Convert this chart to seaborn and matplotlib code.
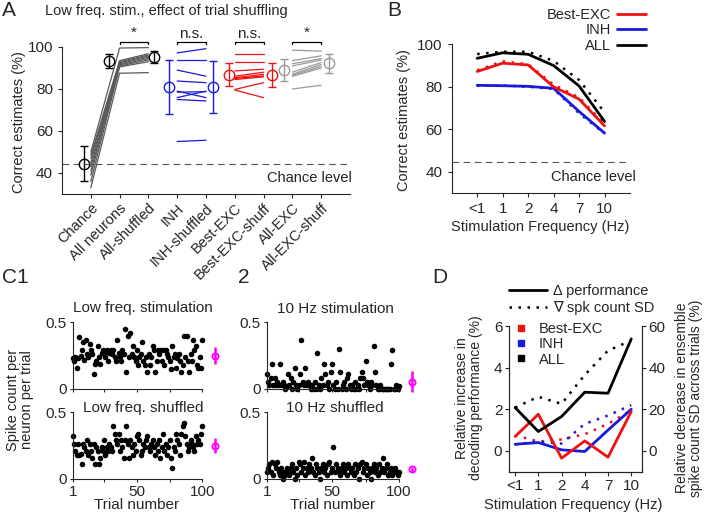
import seaborn as sns
import numpy as np
import pandas as pd
import matplotlib.pyplot as plt
from matplotlib.lines import Line2D

# ---- panel A data ----
cats_a = ['Chance', 'All neurons', 'All-shuffled', 'INH', 'INH-shuffled',
          'Best-EXC', 'Best-EXC-shuff', 'All-EXC', 'All-EXC-shuff']
means_a = [44.5, 93.3, 95.4, 81, 81, 86.7, 86.8, 89.2, 92.2]
errs_a = [8.3, 3.3, 2.8, 12.7, 12.5, 5.5, 5.8, 5.3, 4.5]
chance_sess = [50, 48.5, 47, 45, 43, 41, 39, 36, 33]
all_sess = [99.5, 93.5, 93, 92.5, 92, 91.5, 91, 90.5, 87.5]
allshuf_sess = [99.7, 96.8, 96.2, 95.7, 95.1, 94.5, 93.8, 93, 87.8]
inh_sess = [97.2, 93.6, 89, 83.8, 79, 75.9, 78.5, 75, 55]
inhshuf_sess = [99.2, 93.6, 86.1, 83, 75.9, 79, 78.7, 74.3, 55.6]
best_sess = [96.8, 93, 88.6, 86.1, 85.4, 85, 84.5, 79.8, 79.5]
bestshuf_sess = [96.8, 93, 89.4, 88, 87, 86.2, 85.8, 83, 75.9]
allexc_sess = [98.5, 93.5, 92, 91, 88, 87, 86.5, 86, 80]
allexcshuf_sess = [98, 95.8, 94.5, 93.8, 92.6, 91.7, 90.8, 90, 81.8]
chance_level = 44.5

# ---- panel B data ----
freqs = ['<1', '1', '2', '4', '7', '10']
b_all = [93.4, 96, 95.3, 90, 80.4, 63.7]
b_all_shuf = [95.4, 96.5, 96.5, 92.2, 83.2, 68]
b_best = [87.2, 91.1, 90.3, 80, 74.2, 61.6]
b_best_shuf = [87.8, 92, 90.6, 81, 75, 62.5]
b_inh = [80.7, 80.5, 80.2, 79.3, 68.4, 58.2]
b_inh_shuf = [80.5, 80.6, 80, 79, 67.5, 58]

# ---- panel C data (spike count per neuron per trial) ----
trials = list(range(1, 101))
low_stim = [0.23, 0.21, 0.24, 0.16, 0.23, 0.39, 0.25, 0.29, 0.35, 0.22,
            0.37, 0.26, 0.24, 0.34, 0.29, 0.26, 0.11, 0.19, 0.21, 0.32,
            0.24, 0.19, 0.27, 0.29, 0.26, 0.24, 0.29, 0.21, 0.27, 0.29,
            0.26, 0.29, 0.24, 0.21, 0.37, 0.27, 0.24, 0.21, 0.29, 0.26,
            0.45, 0.13, 0.40, 0.24, 0.42, 0.26, 0.32, 0.24, 0.21, 0.29,
            0.18, 0.24, 0.26, 0.35, 0.21, 0.18, 0.24, 0.13, 0.26, 0.18,
            0.24, 0.32, 0.29, 0.13, 0.21, 0.29, 0.26, 0.29, 0.21, 0.29,
            0.18, 0.29, 0.26, 0.24, 0.21, 0.15, 0.32, 0.24, 0.26, 0.16,
            0.23, 0.26, 0.21, 0.13, 0.18, 0.40, 0.24, 0.40, 0.21, 0.13,
            0.26, 0.21, 0.37, 0.29, 0.32, 0.18, 0.16, 0.24, 0.16, 0.37]
low_shuf = [0.32, 0.26, 0.21, 0.18, 0.26, 0.18, 0.19, 0.11, 0.26, 0.24,
            0.21, 0.29, 0.18, 0.26, 0.21, 0.16, 0.26, 0.11, 0.24, 0.21,
            0.11, 0.16, 0.24, 0.21, 0.29, 0.18, 0.24, 0.21, 0.26, 0.24,
            0.21, 0.40, 0.34, 0.29, 0.26, 0.34, 0.21, 0.29, 0.24, 0.16,
            0.29, 0.40, 0.26, 0.16, 0.29, 0.24, 0.18, 0.26, 0.21, 0.32,
            0.34, 0.29, 0.18, 0.21, 0.26, 0.24, 0.29, 0.32, 0.24, 0.21,
            0.26, 0.29, 0.24, 0.18, 0.26, 0.21, 0.29, 0.16, 0.24, 0.34,
            0.21, 0.26, 0.18, 0.24, 0.29, 0.16, 0.08, 0.24, 0.21, 0.34,
            0.29, 0.26, 0.18, 0.34, 0.40, 0.42, 0.32, 0.26, 0.21, 0.24,
            0.29, 0.26, 0.24, 0.21, 0.32, 0.26, 0.29, 0.26, 0.34, 0.40]
hz10_stim = [0.11, 0.05, 0.03, 0.08, 0.19, 0.03, 0.08, 0.03, 0.05, 0.03,
             0.19, 0.03, 0.05, 0.03, 0.00, 0.02, 0.11, 0.03, 0.08, 0.00,
             0.05, 0.16, 0.03, 0.00, 0.03, 0.11, 0.37, 0.05, 0.03, 0.16,
             0.03, 0.05, 0.03, 0.00, 0.03, 0.00, 0.05, 0.00, 0.27, 0.03,
             0.00, 0.08, 0.03, 0.19, 0.11, 0.03, 0.05, 0.00, 0.13, 0.19,
             0.03, 0.00, 0.05, 0.00, 0.30, 0.13, 0.00, 0.03, 0.05, 0.00,
             0.08, 0.11, 0.03, 0.00, 0.03, 0.00, 0.05, 0.00, 0.03, 0.00,
             0.08, 0.13, 0.08, 0.03, 0.21, 0.05, 0.03, 0.00, 0.05, 0.03,
             0.32, 0.13, 0.03, 0.00, 0.00, 0.03, 0.00, 0.00, 0.00, 0.00,
             0.00, 0.00, 0.00, 0.19, 0.29, 0.00, 0.00, 0.03, 0.00, 0.02]
hz10_shuf = [0.05, 0.08, 0.11, 0.05, 0.13, 0.03, 0.11, 0.08, 0.13, 0.05,
             0.03, 0.08, 0.00, 0.05, 0.03, 0.08, 0.05, 0.03, 0.08, 0.11,
             0.05, 0.00, 0.08, 0.03, 0.13, 0.11, 0.05, 0.08, 0.13, 0.03,
             0.08, 0.05, 0.11, 0.08, 0.16, 0.05, 0.03, 0.11, 0.08, 0.05,
             0.00, 0.08, 0.11, 0.05, 0.08, 0.03, 0.11, 0.13, 0.05, 0.08,
             0.24, 0.05, 0.11, 0.08, 0.05, 0.03, 0.08, 0.11, 0.05, 0.08,
             0.03, 0.11, 0.08, 0.05, 0.08, 0.03, 0.11, 0.05, 0.08, 0.00,
             0.11, 0.13, 0.05, 0.08, 0.11, 0.03, 0.08, 0.05, 0.00, 0.08,
             0.11, 0.05, 0.08, 0.03, 0.11, 0.05, 0.08, 0.16, 0.05, 0.08,
             0.11, 0.03, 0.05, 0.08, 0.03, 0.05, 0.08, 0.05, 0.03, 0.05]
c_means = [0.25, 0.25, 0.055, 0.072]
c_errs = [0.065, 0.057, 0.078, 0.02]

# ---- panel D data ----
d_all = [2.08, 0.93, 1.65, 2.82, 2.77, 5.38]
d_best = [0.69, 1.76, -0.35, 0.48, -0.3, 1.89]
d_inh = [0.32, 0.4, 0.05, -0.03, 1.0, 2.0]
d_all_sd = [20.8, 26, 22.6, 36.5, 48.2, 53]
d_best_sd = [7.5, 4.5, 5.5, 8, 13, 19.5]
d_inh_sd = [3, 4.5, 3.5, 13, 17, 22]

RED = '#ee1111'
BLUE = '#1a1ad8'
GRAY = '#9a9a9a'
DGRAY = '#5a5a5a'
MAG = '#ff00ff'

sns.set_style('ticks')
plt.rcParams['font.family'] = ['Liberation Sans', 'DejaVu Sans']
plt.rcParams['font.size'] = 10
plt.rcParams['xtick.labelsize'] = 11
plt.rcParams['ytick.labelsize'] = 11
plt.rcParams['axes.linewidth'] = 0.8
plt.rcParams['xtick.major.size'] = 3
plt.rcParams['ytick.major.size'] = 3

W, H = 704, 513
fig = plt.figure(figsize=(W / 100, H / 100), dpi=100)


def rect(l, t, r, b):
    return [l / W, 1 - b / H, (r - l) / W, (b - t) / H]


def ftext(x, y, s, **kw):
    fig.text(x / W, 1 - y / H, s, **kw)


dots = (0, (1, 2.6))

# ================= A =================
axA = fig.add_axes(rect(62, 47, 350, 194))
rows = []
pairs = [(0, chance_sess), (1, all_sess), (2, allshuf_sess)]
for s in range(len(chance_sess)):
    for xi, arr in pairs:
        rows.append(dict(x=xi, v=arr[s], sess=s, grp='all'))
for grp, x0, a, b in [('inh', 3, inh_sess, inhshuf_sess),
                      ('best', 5, best_sess, bestshuf_sess),
                      ('allexc', 7, allexc_sess, allexcshuf_sess)]:
    for s in range(len(a)):
        rows.append(dict(x=x0, v=a[s], sess=s, grp=grp))
        rows.append(dict(x=x0 + 1, v=b[s], sess=s, grp=grp))
dfa = pd.DataFrame(rows)
grp_col = {'all': DGRAY, 'inh': BLUE, 'best': RED, 'allexc': GRAY}
for grp, col in grp_col.items():
    sns.lineplot(data=dfa[dfa.grp == grp], x='x', y='v', units='sess',
                 estimator=None, color=col, lw=0.9, ax=axA)

offs = [-0.25, -0.38, 0.2, -0.28, 0.24, -0.2, 0.28, -0.3, 0.28]
cols_a = ['k', 'k', 'k', BLUE, BLUE, RED, RED, GRAY, GRAY]
for i in range(len(cats_a)):
    axA.errorbar(i + offs[i], means_a[i], yerr=errs_a[i], fmt='o', ms=7.5,
                 mfc='none', mec=cols_a[i], ecolor=cols_a[i], mew=1.0,
                 elinewidth=1.0, capsize=3)
axA.axhline(chance_level, color='#555555', lw=0.8, dashes=(6, 4))
axA.text(9.05, 37.5, 'Chance level', ha='right', va='center', fontsize=10.5,
         color='#222222')
for x0, lab in [(1, '*'), (3, 'n.s.'), (5, 'n.s.'), (7, '*')]:
    axA.plot([x0, x0, x0 + 1, x0 + 1], [101.6, 102.6, 102.6, 101.6],
             color='k', lw=0.9, clip_on=False)
    axA.text(x0 + 0.5, 103.4 if lab == '*' else 102.9, lab, ha='center',
             va='bottom', fontsize=11 if lab == '*' else 11)
axA.set_xlim(-1, 9)
axA.set_ylim(30, 100)
axA.set_yticks([40, 60, 80, 100])
axA.set_xticks(range(len(cats_a)))
axA.set_xticklabels(cats_a, rotation=45, ha='right', rotation_mode='anchor',
                    fontsize=10.5)
axA.tick_params(axis='x', pad=2)
axA.set_xlabel('')
axA.set_ylabel('')
sns.despine(ax=axA)
ftext(19, 122, 'Correct estimates (%)', rotation=90, ha='center', va='center',
      fontsize=10.5)
ftext(45, 11, 'Low freq. stim., effect of trial shuffling', ha='left',
      va='center', fontsize=10.5)

# ================= B =================
axB = fig.add_axes(rect(451.7, 44.3, 630, 193))
xi = list(range(len(freqs)))
for vals, col, ls in [(b_all_shuf, 'k', dots), (b_best_shuf, RED, dots),
                      (b_inh_shuf, BLUE, dots), (b_inh, BLUE, '-'),
                      (b_best, RED, '-'), (b_all, 'k', '-')]:
    sns.lineplot(x=xi, y=vals, color=col, lw=2 if ls == '-' else 1.8,
                 linestyle=ls, ax=axB)
axB.axhline(chance_level, color='#555555', lw=0.8, dashes=(6, 4))
axB.text(6.25, 37.5, 'Chance level', ha='right', va='center', fontsize=10.5,
         color='#222222')
axB.set_xlim(-1, 6)
axB.set_ylim(30, 100)
axB.set_yticks([40, 60, 80, 100])
axB.set_xticks(xi)
axB.set_xticklabels(freqs)
sns.despine(ax=axB)
ftext(540, 227, 'Stimulation Frequency (Hz)', ha='center', va='center',
      fontsize=10.5)
ftext(404, 120, 'Correct estimates (%)', rotation=90, ha='center',
      va='center', fontsize=10.5)
handles = [Line2D([], [], color=RED, lw=2), Line2D([], [], color=BLUE, lw=2),
           Line2D([], [], color='k', lw=2)]
fig.legend(handles, ['Best-EXC', 'INH', 'ALL'], loc='upper right',
           bbox_to_anchor=(652 / W, 1 - 2 / H), frameon=False,
           markerfirst=False, handlelength=2.0, labelspacing=0.1,
           fontsize=10.5, borderaxespad=0, handletextpad=0.4)

# ================= C =================
c_sets = [(rect(72.7, 322.3, 222, 389), low_stim, 0),
          (rect(72.7, 412.3, 222, 479), low_shuf, 1),
          (rect(266.7, 322.3, 419, 389), hz10_stim, 2),
          (rect(266.7, 412.3, 419, 479), hz10_shuf, 3)]
for r, vals, k in c_sets:
    ax = fig.add_axes(r)
    sns.scatterplot(x=trials, y=vals, color='k', s=16, linewidth=0,
                    ax=ax, clip_on=False)
    ax.errorbar(110, c_means[k], yerr=c_errs[k], fmt='o', ms=4.5,
                mfc='none', mec=MAG, ecolor=MAG, mew=1.3, elinewidth=1.8,
                capsize=0, clip_on=False)
    ax.set_xlim(1, 115)
    ax.set_ylim(0, 0.5)
    ax.set_yticks([0, 0.5])
    ax.set_yticklabels(['0', '0.5'])
    ax.set_xticks([1, 25, 50, 75, 100])
    if k in (1, 3):
        ax.set_xticklabels(['1', '', '50', '', '100'])
    else:
        ax.set_xticklabels([])
    sns.despine(ax=ax)
    ax.spines['bottom'].set_bounds(1, 100)
    ax.tick_params(length=2.5, pad=2)
ftext(143, 308, 'Low freq. stimulation', ha='center', va='center',
      fontsize=11)
ftext(143, 408, 'Low freq. shuffled', ha='center', va='center', fontsize=11)
ftext(335, 309, '10 Hz stimulation', ha='center', va='center', fontsize=11)
ftext(335, 408, '10 Hz shuffled', ha='center', va='center', fontsize=11)
ftext(137, 505, 'Trial number', ha='center', va='center', fontsize=11)
ftext(333, 505, 'Trial number', ha='center', va='center', fontsize=11)
ftext(20, 400, 'Spike count per\nneuron per trial', rotation=90,
      ha='center', va='center', fontsize=10.5, linespacing=1.0)

# ================= D =================
axD = fig.add_axes(rect(509.3, 326, 641.7, 471.7))
axD2 = axD.twinx()
for vals, col in [(d_all_sd, 'k'), (d_best_sd, RED), (d_inh_sd, BLUE)]:
    sns.lineplot(x=xi, y=vals, color=col, lw=1.8, linestyle=dots, ax=axD2)
for vals, col in [(d_inh, BLUE), (d_best, RED), (d_all, 'k')]:
    sns.lineplot(x=xi, y=vals, color=col, lw=2, ax=axD)
axD.set_zorder(axD2.get_zorder() + 1)
axD.patch.set_visible(False)
axD.set_xlim(-0.25, 5.45)
axD.set_ylim(-1, 6)
axD2.set_ylim(-10, 60)
axD.set_yticks([0, 2, 4, 6])
axD2.set_yticks([0, 20, 40, 60])
axD.set_xticks(xi)
axD.set_xticklabels(freqs)
for a in (axD, axD2):
    a.spines['top'].set_visible(False)
    a.tick_params(pad=2)
ftext(573, 505, 'Stimulation Frequency (Hz)', ha='center', va='center',
      fontsize=10.5)
ftext(469, 398, 'Relative increase in\ndecoding performance (%)',
      rotation=90, ha='center', va='center', fontsize=10, linespacing=1.0)
ftext(689, 398, 'Relative decrease in ensemble\nspike count SD across trials (%)',
      rotation=90, ha='center', va='center', fontsize=10, linespacing=1.0)
sty = [Line2D([], [], color='k', lw=2),
       Line2D([], [], color='k', lw=1.8, linestyle=dots)]
fig.legend(sty, ['\u0394 performance', '\u2207 spk count SD'],
           loc='upper left', bbox_to_anchor=(503 / W, 1 - 278 / H),
           frameon=False, handlelength=2.6, labelspacing=0.2, fontsize=10.5,
           borderaxespad=0, handletextpad=0.4)
sq = [Line2D([], [], color=c, marker='s', ls='none', ms=5)
      for c in (RED, BLUE, 'k')]
axD.legend(sq, ['Best-EXC', 'INH', 'ALL'], loc='upper left',
           bbox_to_anchor=(-0.02, 1.07), frameon=False, handlelength=1.2,
           labelspacing=0.1, fontsize=10.5, borderaxespad=0,
           handletextpad=0.6)

# panel letters
ftext(2, 1, 'A', ha='left', va='top', fontsize=15)
ftext(387, 1, 'B', ha='left', va='top', fontsize=15)
ftext(2, 268, 'C1', ha='left', va='top', fontsize=15)
ftext(238, 268, '2', ha='left', va='top', fontsize=15)
ftext(432, 268, 'D', ha='left', va='top', fontsize=15)

fig.savefig('out.png', dpi=100)
